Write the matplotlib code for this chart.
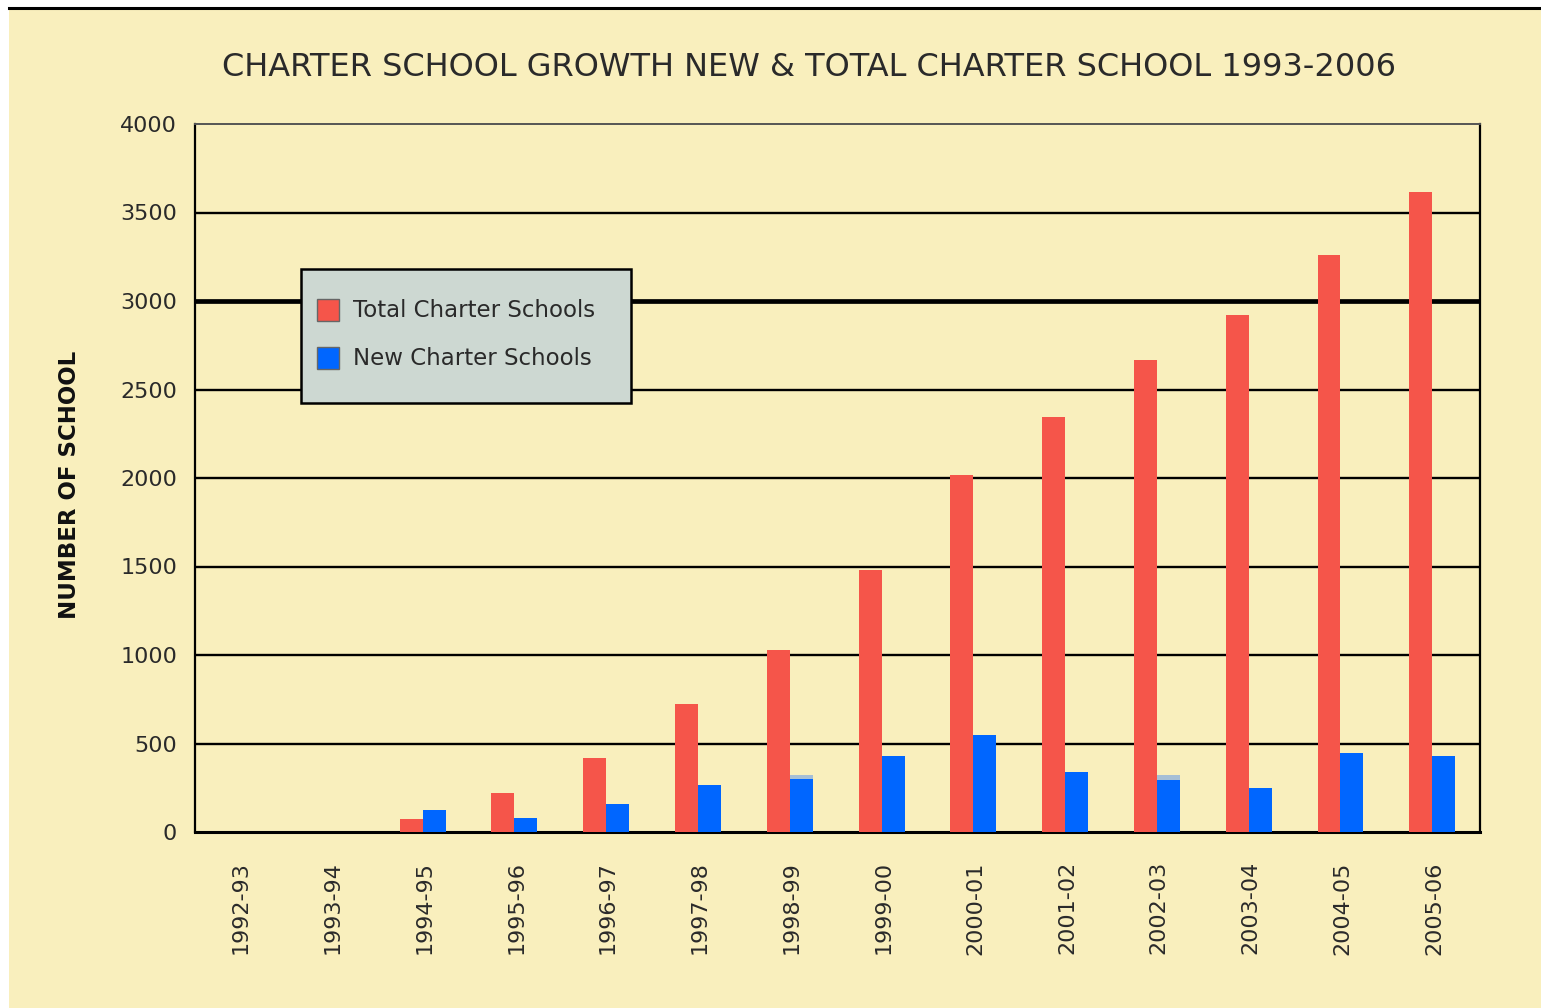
import numpy as np
import matplotlib.pyplot as plt
from matplotlib.patches import Rectangle
from matplotlib.lines import Line2D

years = ["1992-93", "1993-94", "1994-95", "1995-96", "1996-97", "1997-98", "1998-99",
         "1999-00", "2000-01", "2001-02", "2002-03", "2003-04", "2004-05", "2005-06"]
total_schools = [0, 0, 75, 220, 416, 723, 1028, 1480, 2018, 2345, 2668, 2920, 3261, 3614]
new_schools = [0, 0, 124, 77, 158, 266, 298, 429, 548, 337, 294, 247, 445, 431]
# faint lighter cap seen above two of the blue bars
new_shade = [0, 0, 0, 0, 0, 0, 322, 0, 0, 0, 322, 0, 0, 0]
yticks = [0, 500, 1000, 1500, 2000, 2500, 3000, 3500, 4000]

bg = "#f9efbd"
red = "#f5554a"
blue = "#0066ff"
W, H = 1541.0, 1008.0

fig = plt.figure(figsize=(W / 100, H / 100), dpi=100, facecolor=bg)
# white strip on the left and above the top rule
fig.patches.append(Rectangle((0, 0), 9 / W, 1, transform=fig.transFigure,
                             facecolor="white", edgecolor="none", zorder=-10))
fig.patches.append(Rectangle((0, 1 - 8 / H), 1, 8 / H, transform=fig.transFigure,
                             facecolor="white", edgecolor="none", zorder=-10))
fig.add_artist(Line2D([9 / W, 1], [1 - 8 / H, 1 - 8 / H], color="black", lw=2.2))

ax = fig.add_axes([195 / W, 1 - 832 / H, (1480 - 195) / W, (832 - 124) / H])
ax.set_facecolor("none")

x = np.arange(len(years))
w = 0.25
off = -0.02
ax.bar(x + off - w / 2, total_schools, w, color=red, zorder=3, label="Total Charter Schools")
ax.bar(x + off + w / 2, new_shade, w, color="#a6bfd6", zorder=3)
ax.bar(x + off + w / 2, new_schools, w, color=blue, zorder=3, label="New Charter Schools")

for v in yticks[1:-1]:
    ax.axhline(v, color="black", lw=3.4 if v == 3000 else 1.7, zorder=1)

ax.set_xlim(-0.5, len(years) - 0.5)
ax.set_ylim(0, 4000)
ax.set_yticks(yticks)
ax.set_yticklabels([str(v) for v in yticks], fontsize=16, color="#2a2a2a")
ax.set_xticks(x)
ax.set_xticklabels(years, rotation=90, fontsize=16, color="#2a2a2a")
ax.tick_params(axis="both", length=0)
ax.tick_params(axis="y", pad=13)
ax.tick_params(axis="x", pad=21)
for s in ["left", "right"]:
    ax.spines[s].set_linewidth(1.6)
ax.spines["bottom"].set_linewidth(2.2)
ax.spines["top"].set_linewidth(1.4)
ax.spines["top"].set_color("#555555")

# legend box
lx0, lx1 = (301 - 195) / 1285.0, (631 - 195) / 1285.0
ly0, ly1 = (832 - 403) / 708.0, (832 - 269) / 708.0
ax.add_patch(Rectangle((lx0, ly0), lx1 - lx0, ly1 - ly0, transform=ax.transAxes,
                       facecolor="#cdd8d2", edgecolor="black", lw=1.8, zorder=5))
leg = ax.legend(loc="upper left", bbox_to_anchor=(lx0 - 0.002, ly1 - 0.016), frameon=False,
                fontsize=16.5, handlelength=0.96, handleheight=1.1, handletextpad=0.62,
                labelspacing=1.05, borderpad=0.3)
leg.set_zorder(6)
for t in leg.get_texts():
    t.set_color("#2a2a2a")
for p in leg.get_patches():
    p.set_edgecolor("#666666")
    p.set_linewidth(1.0)

fig.text(809 / W, 1 - 67 / H, "CHARTER SCHOOL GROWTH NEW & TOTAL CHARTER SCHOOL 1993-2006",
         ha="center", va="center", fontsize=23, color="#2a2a2a")
fig.text(70 / W, 1 - 485 / H, "NUMBER OF SCHOOL", rotation=90, ha="center", va="center",
         fontsize=16.5, fontweight="bold", color="#111111")

fig.savefig("out.png", dpi=100, facecolor=fig.get_facecolor())
